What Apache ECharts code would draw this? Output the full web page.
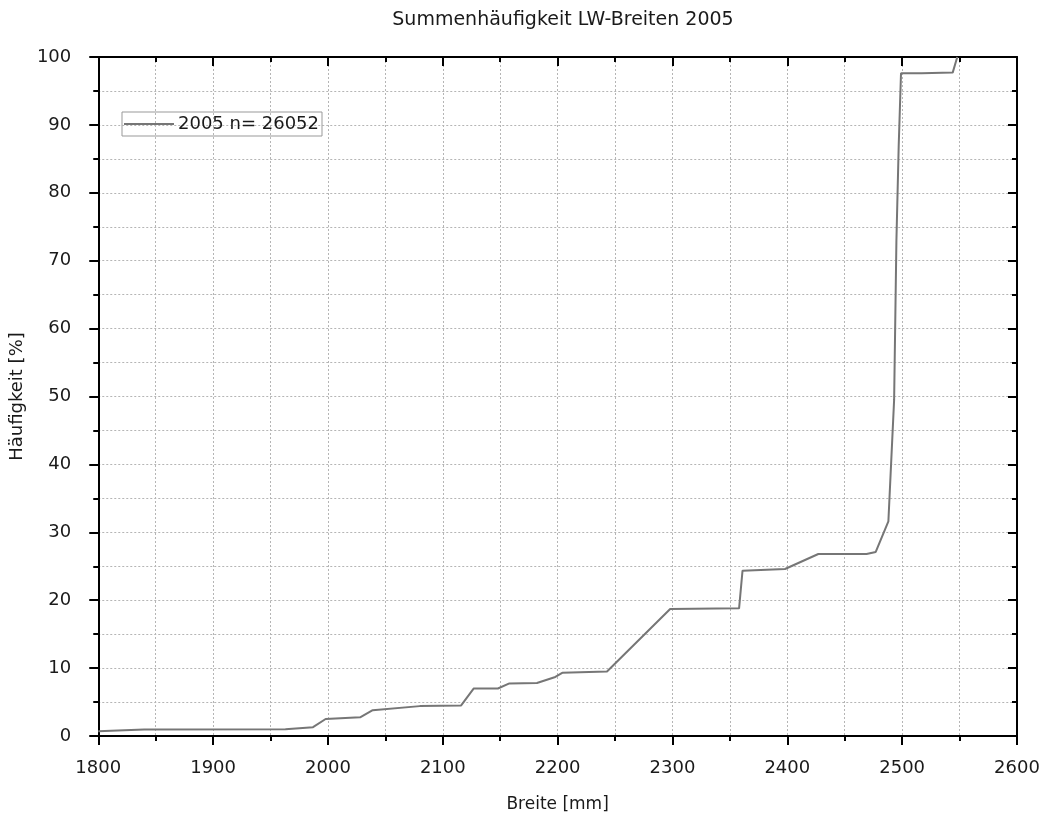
<!DOCTYPE html>
<html>
<head>
<meta charset="utf-8">
<script src="https://cdn.jsdelivr.net/npm/echarts@6/dist/echarts.min.js"></script>
<style>
  html, body { margin: 0; padding: 0; background: #fff; }
  #chart { width: 1047px; height: 821px; }
</style>
</head>
<body>
<div id="chart"></div>
<script>
// Cumulative frequency of widths (Breite in mm) and the share in percent
const widths = [1800, 1840, 1963, 1987, 1998, 2028, 2039, 2080, 2116, 2127, 2148, 2158, 2182, 2198, 2204, 2243, 2298, 2358, 2361, 2398, 2427, 2469, 2477, 2488, 2493, 2495, 2497, 2499, 2517, 2544, 2548];
const shares = [0.7, 0.95, 1.0, 1.3, 2.5, 2.75, 3.8, 4.4, 4.5, 7.0, 7.0, 7.75, 7.8, 8.7, 9.3, 9.5, 18.7, 18.8, 24.35, 24.6, 26.8, 26.8, 27.1, 31.6, 49.5, 73, 87, 97.6, 97.6, 97.7, 100];
const xTicks = { min: 1800, max: 2600, step: 100 };
const yTicks = { min: 0, max: 100, step: 10 };
const seriesName = '2005 n= 26052';

const font = '"DejaVu Sans", Arial, sans-serif';
const textColor = '#1a1a1a';
const lineColor = '#767676';
const gridLine = { show: true, lineStyle: { color: '#b5b5b5', type: [2, 2], width: 1 } };
const frameLine = { show: true, onZero: false, lineStyle: { color: '#000', width: 2 } };
const tickStyle = { color: '#000', width: 2 };

const chart = echarts.init(document.getElementById('chart'));
chart.setOption({
  animation: false,
  title: {
    text: 'Summenhäufigkeit LW-Breiten 2005',
    left: 558, top: 6, textAlign: 'center',
    textStyle: { fontFamily: font, fontSize: 19, fontWeight: 'normal', color: textColor }
  },
  legend: {
    left: 122, top: 112,
    icon: 'rect',
    itemWidth: 50, itemHeight: 2, itemGap: 0,
    padding: [3, 3, 3, 2],
    borderColor: '#999', borderWidth: 1, borderRadius: 0,
    textStyle: { fontFamily: font, fontSize: 18, color: textColor, padding: [0, 0, 0, -1] },
    data: [{ name: seriesName }]
  },
  grid: { left: 97, right: 30, top: 57, bottom: 85, containLabel: false },
  xAxis: [{
    type: 'value', min: xTicks.min, max: xTicks.max, interval: xTicks.step,
    name: 'Breite [mm]', nameLocation: 'middle', nameGap: 60,
    nameTextStyle: { fontFamily: font, fontSize: 17, color: textColor },
    axisLine: frameLine,
    axisTick: { show: true, inside: false, length: 9, lineStyle: tickStyle },
    minorTick: { show: true, splitNumber: 2, length: 5, lineStyle: tickStyle },
    axisLabel: { fontFamily: font, fontSize: 18, color: textColor, margin: 23, formatter: v => String(v) },
    splitLine: gridLine,
    minorSplitLine: gridLine
  }, {
    type: 'value', position: 'top', min: xTicks.min, max: xTicks.max, interval: xTicks.step,
    axisLine: frameLine,
    axisTick: { show: true, inside: true, length: 9, lineStyle: tickStyle },
    minorTick: { show: true, splitNumber: 2, length: 5, lineStyle: tickStyle },
    axisLabel: { show: false },
    splitLine: { show: false }
  }],
  yAxis: [{
    type: 'value', min: yTicks.min, max: yTicks.max, interval: yTicks.step,
    name: 'Häufigkeit [%]', nameLocation: 'middle', nameGap: 68,
    nameTextStyle: { fontFamily: font, fontSize: 18, color: textColor },
    axisLine: frameLine,
    axisTick: { show: true, inside: false, length: 9, lineStyle: tickStyle },
    minorTick: { show: true, splitNumber: 2, length: 5, lineStyle: tickStyle },
    axisLabel: { fontFamily: font, fontSize: 18, color: textColor, margin: 27, formatter: v => String(v) },
    splitLine: gridLine,
    minorSplitLine: gridLine
  }, {
    type: 'value', position: 'right', min: yTicks.min, max: yTicks.max, interval: yTicks.step,
    axisLine: frameLine,
    axisTick: { show: true, inside: true, length: 9, lineStyle: tickStyle },
    minorTick: { show: true, splitNumber: 2, length: 5, lineStyle: tickStyle },
    axisLabel: { show: false },
    splitLine: { show: false }
  }],
  series: [{
    name: seriesName,
    type: 'line',
    symbol: 'none',
    xAxisIndex: 0, yAxisIndex: 0,
    lineStyle: { color: lineColor, width: 2 },
    itemStyle: { color: lineColor },
    data: widths.map((w, i) => [w, shares[i]])
  }]
});
</script>
</body>
</html>
